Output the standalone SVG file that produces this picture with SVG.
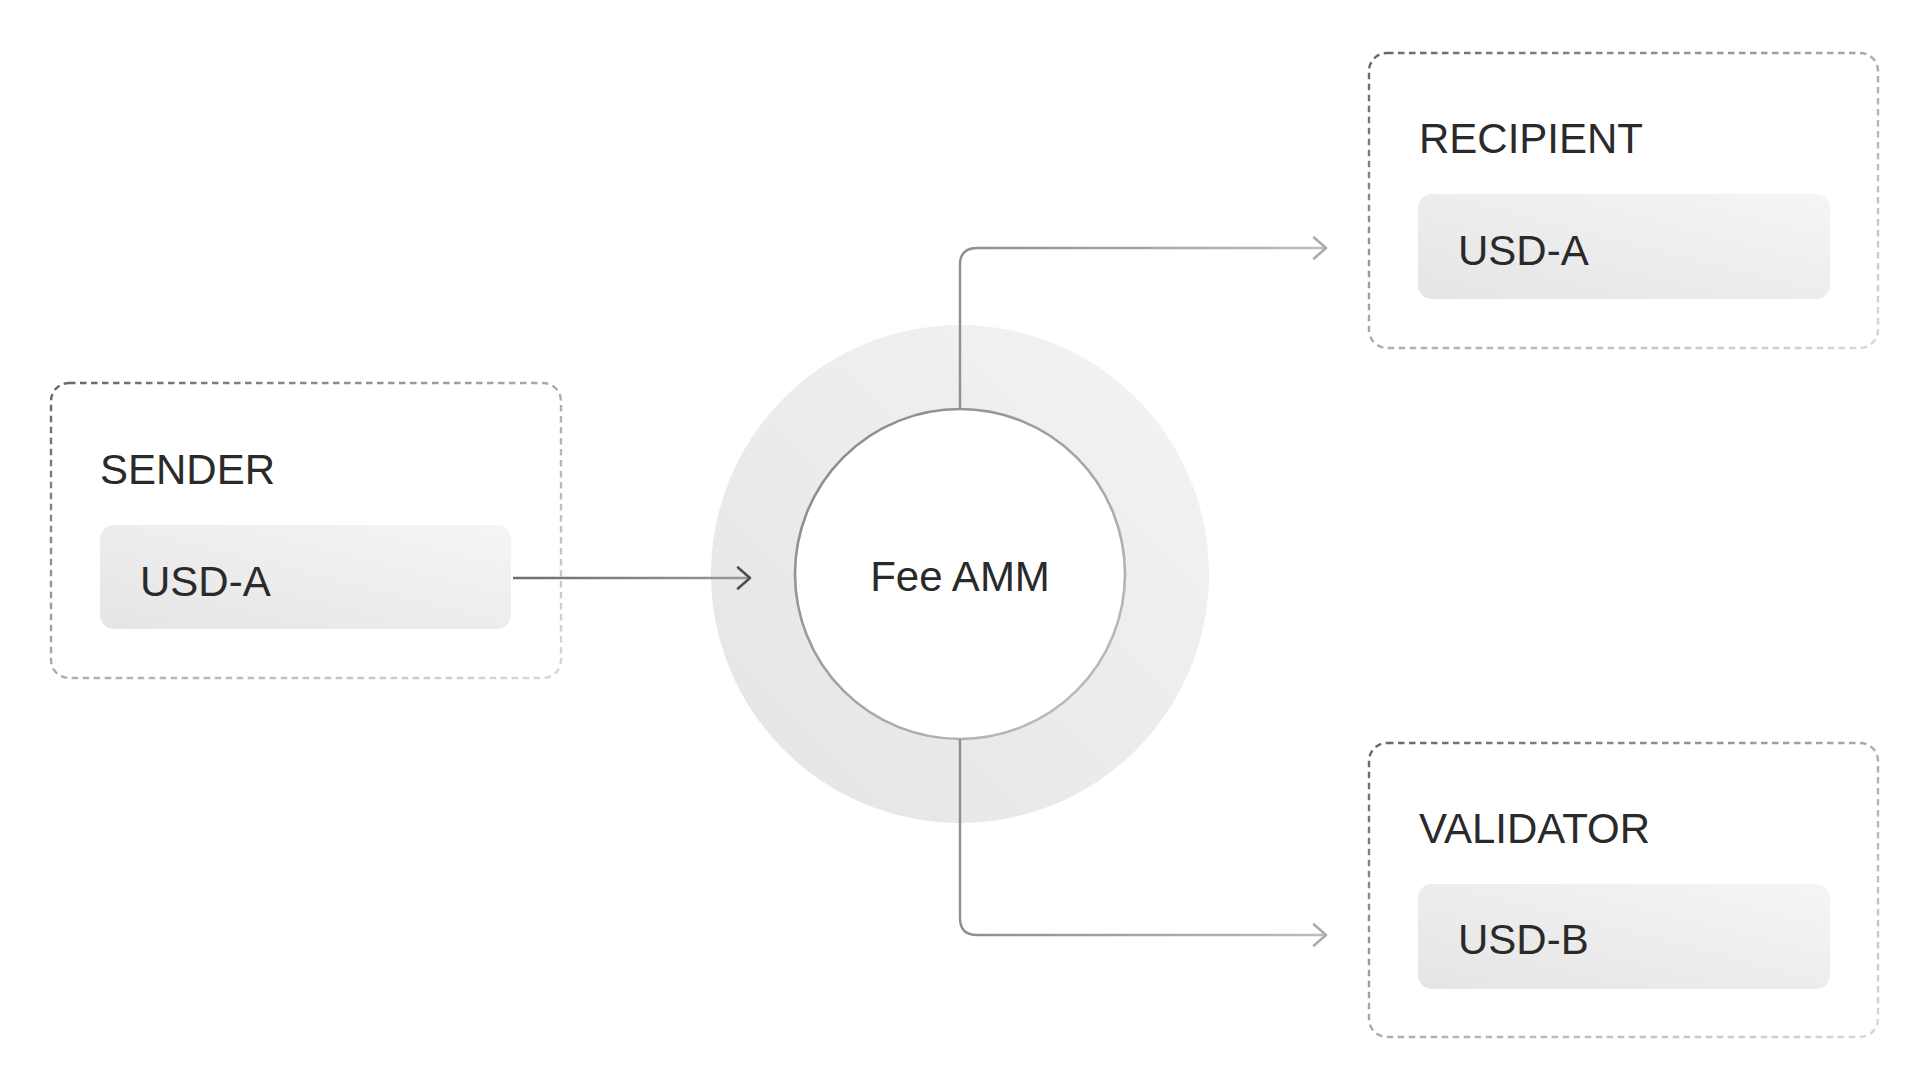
<svg xmlns="http://www.w3.org/2000/svg" width="1920" height="1080" viewBox="0 0 1920 1080">
  <defs>
    <linearGradient id="boxStroke" x1="0" y1="0" x2="1" y2="1">
      <stop offset="0" stop-color="#666666"/>
      <stop offset="0.5" stop-color="#acacac"/>
      <stop offset="1" stop-color="#d8d8d8"/>
    </linearGradient>
    <linearGradient id="pillFill" x1="0" y1="1" x2="1" y2="0">
      <stop offset="0" stop-color="#e5e5e5"/>
      <stop offset="1" stop-color="#f5f5f5"/>
    </linearGradient>
    <linearGradient id="ringFill" x1="0" y1="1" x2="1" y2="0">
      <stop offset="0" stop-color="#e4e4e4"/>
      <stop offset="1" stop-color="#f4f4f4"/>
    </linearGradient>
    <linearGradient id="innerStroke" x1="0" y1="0" x2="1" y2="1">
      <stop offset="0" stop-color="#858585"/>
      <stop offset="1" stop-color="#c2c2c2"/>
    </linearGradient>
    <linearGradient id="lineIn" gradientUnits="userSpaceOnUse" x1="513" y1="0" x2="752" y2="0">
      <stop offset="0" stop-color="#6e6e6e"/>
      <stop offset="1" stop-color="#9a9a9a"/>
    </linearGradient>
    <linearGradient id="lineOut" gradientUnits="userSpaceOnUse" x1="960" y1="0" x2="1328" y2="0">
      <stop offset="0" stop-color="#8e8e8e"/>
      <stop offset="1" stop-color="#bdbdbd"/>
    </linearGradient>
    <marker id="arrDark" viewBox="0 0 16 24" refX="14" refY="12" markerWidth="16" markerHeight="24" markerUnits="userSpaceOnUse" orient="auto">
      <path d="M2 1.5 L14 12 L2 22.5" fill="none" stroke="#4f4f4f" stroke-width="2.6" stroke-linecap="round" stroke-linejoin="round"/>
    </marker>
    <marker id="arrLight" viewBox="0 0 16 24" refX="14" refY="12" markerWidth="16" markerHeight="24" markerUnits="userSpaceOnUse" orient="auto">
      <path d="M2 1.5 L14 12 L2 22.5" fill="none" stroke="#ababab" stroke-width="2.6" stroke-linecap="round" stroke-linejoin="round"/>
    </marker>
  </defs>
  <style>
    .box { fill: none; stroke: url(#boxStroke); stroke-width: 2.4; stroke-dasharray: 6.5 4.5; }
    .pill { fill: url(#pillFill); }
    .label { font-family: "Liberation Sans", Arial, sans-serif; font-size: 42px; fill: #2a2a2a; }
    .conn { fill: none; stroke-width: 2.4; }
  </style>
  <rect width="1920" height="1080" fill="#ffffff"/>

  <g id="fee-amm">
    <circle cx="960" cy="574" r="249" fill="url(#ringFill)"/>
    <circle cx="960" cy="574" r="165" fill="#ffffff" stroke="url(#innerStroke)" stroke-width="2.6"/>
    <text class="label" x="960" y="591" text-anchor="middle">Fee AMM</text>
  </g>

  <g id="sender">
    <rect class="box" x="51" y="383" width="510" height="295" rx="18"/>
    <text class="label" x="100" y="484">SENDER</text>
    <rect class="pill" x="100" y="525" width="411" height="104" rx="14"/>
    <text class="label" x="140" y="596">USD-A</text>
  </g>

  <g id="recipient">
    <rect class="box" x="1369" y="53" width="509" height="295" rx="18"/>
    <text class="label" x="1419" y="153">RECIPIENT</text>
    <rect class="pill" x="1418" y="194" width="412" height="105" rx="14"/>
    <text class="label" x="1458" y="265">USD-A</text>
  </g>

  <g id="validator">
    <rect class="box" x="1369" y="743" width="509" height="294" rx="18"/>
    <text class="label" x="1419" y="843">VALIDATOR</text>
    <rect class="pill" x="1418" y="884" width="412" height="105" rx="14"/>
    <text class="label" x="1458" y="954">USD-B</text>
  </g>

  <g id="connectors">
    <path class="conn" d="M513 578 L750 578" stroke="url(#lineIn)" marker-end="url(#arrDark)"/>
    <path class="conn" d="M960 409 L960 265 Q960 248 977 248 L1326 248" stroke="url(#lineOut)" marker-end="url(#arrLight)"/>
    <path class="conn" d="M960 739 L960 918 Q960 935 977 935 L1326 935" stroke="url(#lineOut)" marker-end="url(#arrLight)"/>
  </g>
</svg>
